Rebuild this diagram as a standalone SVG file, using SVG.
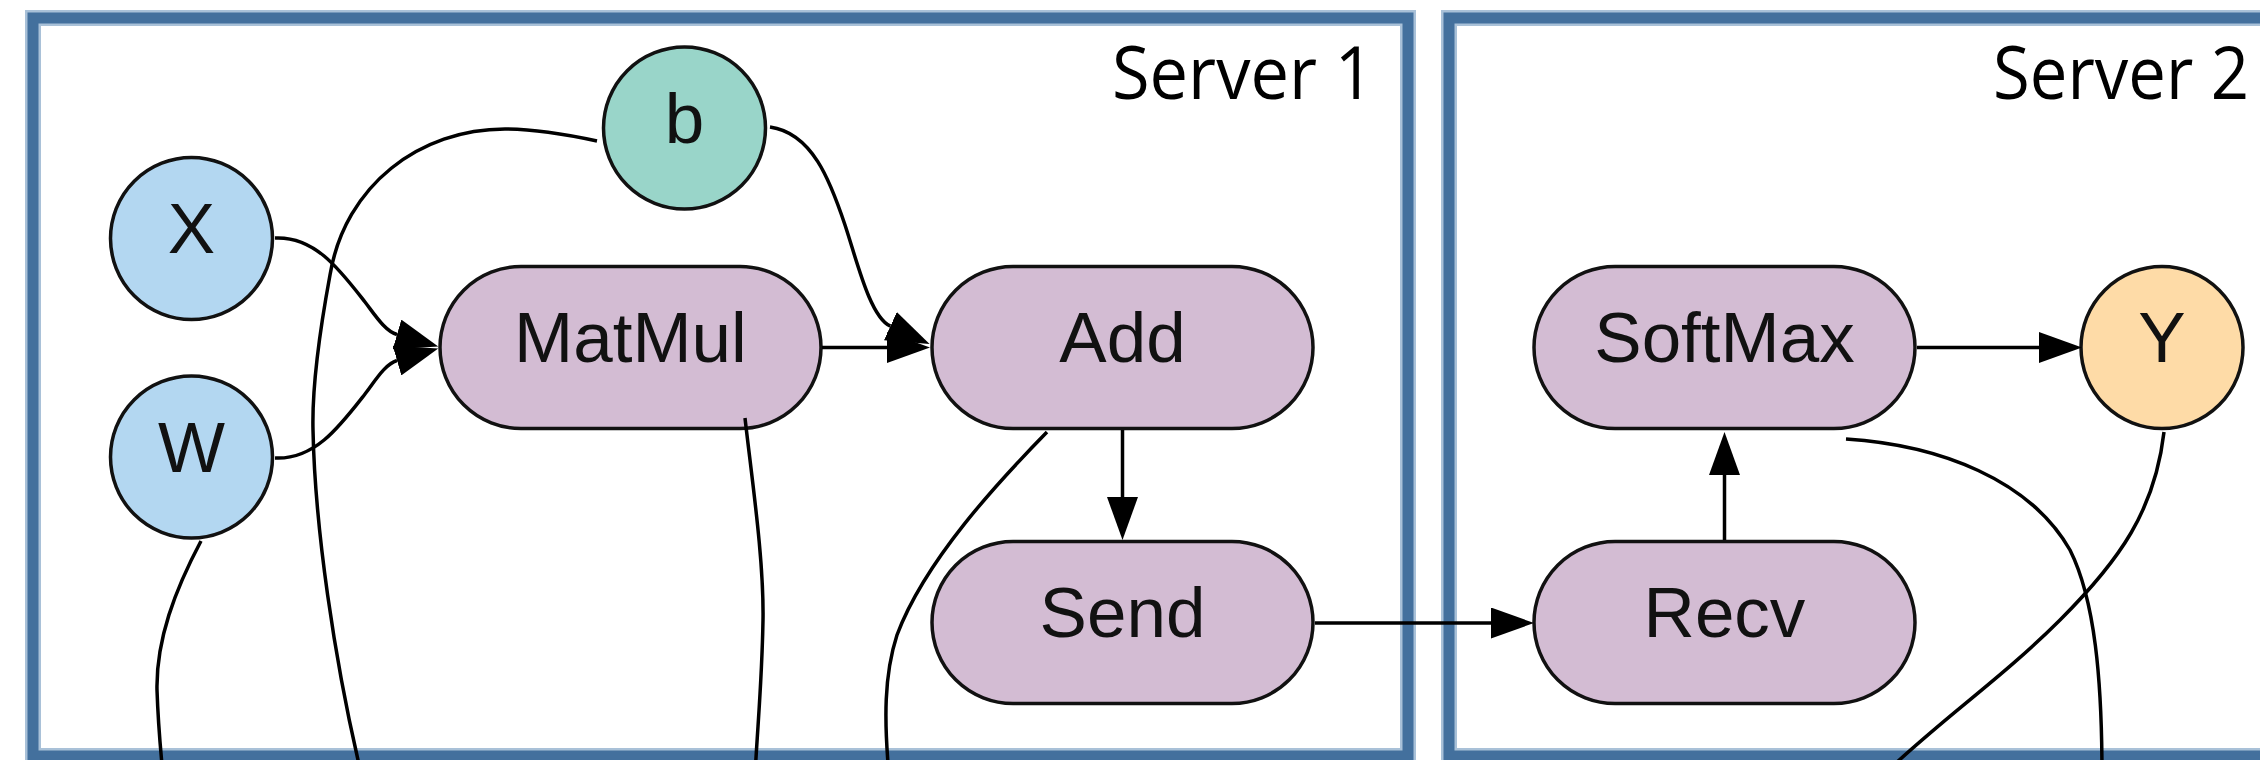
<svg xmlns="http://www.w3.org/2000/svg" width="2260" height="760" viewBox="0 0 2260 760">
  <style>
    .frame-halo { fill: none; stroke: #a9c1d8; stroke-width: 16; }
    .frame { fill: none; stroke: #43709d; stroke-width: 11; }
    .frame-label { font-family: "Open Sans", "Noto Sans", sans-serif; font-size: 74px; fill: #000; }
    .node-shape { stroke: #111; stroke-width: 3.5; }
    .input { fill: #b3d7f1; }
    .bias { fill: #99d5c9; }
    .op { fill: #d3bcd3; }
    .output { fill: #fedba7; }
    .label { font-family: "Liberation Sans", Arial, sans-serif; font-size: 71px; fill: #111; text-anchor: middle; }
    .edge { fill: none; stroke: #000; stroke-width: 3.5; }
  </style>
  <defs>
    <marker id="arrow" markerUnits="userSpaceOnUse" viewBox="0 0 43 31" markerWidth="43" markerHeight="31" refX="0" refY="15.5" orient="auto">
      <path d="M0,0 L43,15.5 L0,31 Z" fill="#000"/>
    </marker>
  </defs>

  <rect width="2260" height="760" fill="#fff"/>

  <!-- server clusters -->
  <g id="server1">
    <rect class="frame-halo" x="33" y="18" width="1375" height="738"/>
    <rect class="frame" x="33" y="18" width="1375" height="738"/>
    <text class="frame-label" x="1112" y="99" textLength="262" lengthAdjust="spacingAndGlyphs">Server 1</text>
  </g>
  <g id="server2">
    <rect class="frame-halo" x="1449" y="18" width="900" height="738"/>
    <rect class="frame" x="1449" y="18" width="900" height="738"/>
    <text class="frame-label" x="1993" y="99" textLength="256" lengthAdjust="spacingAndGlyphs">Server 2</text>
  </g>

  <!-- nodes -->
  <g id="node-X">
    <circle class="node-shape input" cx="191.5" cy="238.5" r="81"/>
    <text class="label" x="191.5" y="253">X</text>
  </g>
  <g id="node-W">
    <circle class="node-shape input" cx="191.5" cy="457" r="81"/>
    <text class="label" x="191.5" y="471.5">W</text>
  </g>
  <g id="node-b">
    <circle class="node-shape bias" cx="684.5" cy="128" r="81"/>
    <text class="label" x="684.5" y="143">b</text>
  </g>
  <g id="node-MatMul">
    <rect class="node-shape op" x="440" y="266.5" width="381" height="162" rx="81"/>
    <text class="label" x="630.5" y="362">MatMul</text>
  </g>
  <g id="node-Add">
    <rect class="node-shape op" x="932" y="266.5" width="381" height="162" rx="81"/>
    <text class="label" x="1122.5" y="362">Add</text>
  </g>
  <g id="node-Send">
    <rect class="node-shape op" x="932" y="541.5" width="381" height="162" rx="81"/>
    <text class="label" x="1122.5" y="637">Send</text>
  </g>
  <g id="node-SoftMax">
    <rect class="node-shape op" x="1534" y="266.5" width="381" height="162" rx="81"/>
    <text class="label" x="1724.5" y="362">SoftMax</text>
  </g>
  <g id="node-Recv">
    <rect class="node-shape op" x="1534" y="541.5" width="381" height="162" rx="81"/>
    <text class="label" x="1724.5" y="637">Recv</text>
  </g>
  <g id="node-Y">
    <circle class="node-shape output" cx="2162" cy="347.5" r="81"/>
    <text class="label" x="2162" y="362">Y</text>
  </g>

  <!-- connectors -->
  <g id="edges">
    <path class="edge" marker-end="url(#arrow)" d="M275,238 C315,236 340,270 365,302 C375,315 385,331 397,334.5"/>
    <path class="edge" marker-end="url(#arrow)" d="M275,458 C315,460 340,426 365,394 C375,381 385,364 397,360.5"/>
    <path class="edge" marker-end="url(#arrow)" d="M822,347.5 L887,347.5"/>
    <path class="edge" marker-end="url(#arrow)" d="M770,127 C812,133 830,180 845,225 C857,261 870,317 890.4,326.2"/>
    <path class="edge" marker-end="url(#arrow)" d="M1122.5,430 L1122.5,497"/>
    <path class="edge" marker-end="url(#arrow)" d="M1315,623 L1491,623"/>
    <path class="edge" marker-end="url(#arrow)" d="M1724.5,540 L1724.5,475"/>
    <path class="edge" marker-end="url(#arrow)" d="M1917,347.5 L2039,347.5"/>

    <!-- edges leaving the visible area -->
    <path class="edge" d="M597,141 C560,133 530,129 505,129 C420,129 345,185 330,275 C318,340 312,390 313,430 C315,530 335,660 358,760 L361,775"/>
    <path class="edge" d="M201,541 C175,590 156,640 157,690 C158,720 160,745 163,775"/>
    <path class="edge" d="M745,418 C752,480 764,560 763,620 C762,680 758,720 755,775"/>
    <path class="edge" d="M1047,432 C1000,480 925,560 897,635 C884,675 884,720 889,775"/>
    <path class="edge" d="M1846,439 C1940,445 2030,480 2070,550 C2095,600 2102,680 2102,775"/>
    <path class="edge" d="M2164,432 C2155,510 2120,560 2060,620 C2000,680 1940,720 1880,778"/>
  </g>
</svg>
